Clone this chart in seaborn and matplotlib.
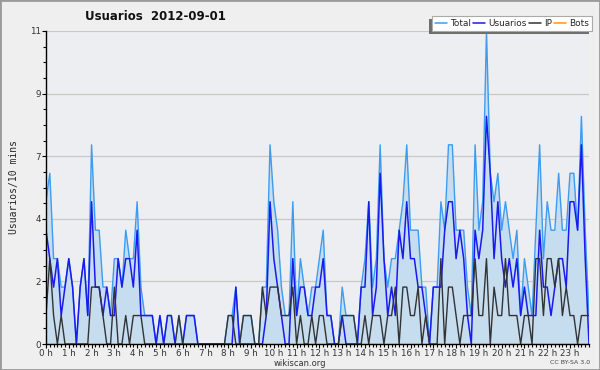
import numpy as np
import pandas as pd
import matplotlib
matplotlib.use("Agg")
import matplotlib.pyplot as plt
from matplotlib.lines import Line2D
from matplotlib.patches import Rectangle
import seaborn as sns

# ---- data (10-minute slots, 2012-09-01) ----
hour_labels = [f"{h} h" for h in range(24)]

total = [5, 6, 3, 3, 2, 2, 3, 2, 0, 2,
         3, 1, 7, 4, 4, 2, 2, 1, 3, 3,
         2, 4, 3, 3, 5, 2, 1, 1, 1, 0,
         1, 0, 1, 1, 0, 1, 0, 1, 1, 1,
         0, 0, 0, 0, 0, 0, 0, 0, 1, 1,
         2, 0, 1, 1, 1, 0, 0, 2, 2, 7,
         5, 4, 2, 1, 1, 5, 1, 3, 2, 1,
         2, 2, 3, 4, 1, 1, 0, 0, 2, 1,
         1, 1, 0, 2, 3, 5, 2, 3, 7, 3,
         2, 3, 3, 4, 5, 7, 4, 4, 4, 2,
         2, 0, 2, 2, 5, 4, 7, 7, 4, 4,
         4, 2, 1, 7, 4, 5, 11, 6, 5, 6,
         4, 5, 4, 3, 4, 1, 3, 2, 1, 4,
         7, 3, 5, 4, 4, 6, 4, 4, 6, 6,
         4, 8, 4, 1]

usuarios = [4, 3, 2, 3, 1, 2, 3, 2, 0, 2,
            3, 1, 5, 2, 2, 1, 2, 1, 1, 3,
            2, 3, 3, 2, 4, 1, 1, 1, 1, 0,
            1, 0, 1, 1, 0, 0, 0, 1, 1, 1,
            0, 0, 0, 0, 0, 0, 0, 0, 0, 0,
            2, 0, 0, 0, 0, 0, 0, 0, 1, 5,
            3, 2, 1, 0, 0, 3, 1, 2, 2, 1,
            1, 2, 2, 3, 1, 1, 0, 0, 1, 0,
            0, 0, 0, 2, 2, 5, 1, 2, 6, 3,
            1, 2, 1, 4, 3, 5, 3, 3, 2, 2,
            1, 0, 2, 2, 2, 4, 5, 5, 3, 4,
            3, 1, 0, 4, 3, 4, 8, 6, 3, 5,
            3, 2, 3, 2, 3, 1, 2, 1, 1, 1,
            4, 2, 2, 1, 2, 3, 3, 2, 5, 5,
            4, 7, 3, 0]

ip = [1, 3, 1, 0, 1, 0, 0, 0, 0, 0,
      0, 0, 2, 2, 2, 1, 0, 0, 2, 0,
      0, 1, 0, 1, 1, 1, 0, 0, 0, 0,
      0, 0, 0, 0, 0, 1, 0, 0, 0, 0,
      0, 0, 0, 0, 0, 0, 0, 0, 1, 1,
      0, 0, 1, 1, 1, 0, 0, 2, 1, 2,
      2, 2, 1, 1, 1, 2, 0, 1, 0, 0,
      1, 0, 1, 1, 0, 0, 0, 0, 1, 1,
      1, 1, 0, 0, 1, 0, 1, 1, 1, 0,
      1, 1, 2, 0, 2, 2, 1, 1, 2, 0,
      1, 0, 0, 0, 3, 0, 2, 2, 1, 0,
      1, 1, 1, 3, 1, 1, 3, 0, 2, 1,
      1, 3, 1, 1, 1, 0, 1, 1, 0, 3,
      3, 1, 3, 3, 2, 3, 1, 2, 1, 1,
      0, 1, 1, 1]

bots = [0] * 144

series_names = ["Total", "Usuarios", "IP", "Bots"]
series_colors = ["#3d9cf0", "#1a1aee", "#333333", "#ff9900"]

y_tick_pos = [0, 2.2, 4.4, 6.6, 8.8, 11]
y_tick_labels = ["0", "2", "4", "7", "9", "11"]

# ---- build long table ----
slots = np.arange(len(total))
df = pd.DataFrame({"slot": slots, "Total": total, "Usuarios": usuarios,
                   "IP": ip, "Bots": bots})
long_df = df.melt(id_vars="slot", var_name="serie", value_name="n")

sns.set_style("white")
plt.rcParams["font.family"] = ["DejaVu Sans"]

W, H = 600, 370
fig = plt.figure(figsize=(W / 100, H / 100), dpi=100, facecolor="#efefef")
ax = fig.add_axes([46 / W, 26 / H, 543 / W, 313 / H])
ax.set_facecolor("#eceef1")

# fill under Total
ax.fill_between(df["slot"], df["Total"], 0, color="#c6dcef", lw=0, zorder=1)

palette = dict(zip(series_names, series_colors))
widths = {"Total": 1.0, "Usuarios": 1.1, "IP": 1.0, "Bots": 1.0}
for name in ["Bots", "Total", "Usuarios", "IP"]:
    sub = long_df[long_df["serie"] == name]
    sns.lineplot(data=sub, x="slot", y="n", color=palette[name],
                 linewidth=widths[name], ax=ax, legend=False,
                 estimator=None, zorder=1.5 if name == "Bots" else 2)

ax.set_xlim(0, len(total) - 1)
ax.set_ylim(0, 11)

# grid / ticks
ax.set_yticks(y_tick_pos)
ax.set_yticklabels(y_tick_labels)
ax.set_yticks(np.arange(0, 11.01, 0.55), minor=True)
ax.yaxis.grid(True, which="major", color="#c8c8c8", lw=0.9)
ax.xaxis.grid(False)
ax.set_axisbelow(True)

ax.set_xticks(np.arange(0, 144, 6))
ax.set_xticklabels(hour_labels)
ax.set_xticks(np.arange(0, 144, 1), minor=True)

for s in ["top", "right"]:
    ax.spines[s].set_visible(False)
for s in ["left", "bottom"]:
    ax.spines[s].set_color("black")
    ax.spines[s].set_linewidth(1.0)
    ax.spines[s].set_zorder(3)

ax.tick_params(axis="both", which="major", length=3, width=0.8,
               color="black", labelsize=6.3, labelcolor="#333333", pad=0.5)
ax.tick_params(axis="both", which="minor", length=2.2, width=0.8, color="black")
ax.tick_params(axis="x", which="both", bottom=True)
ax.tick_params(axis="y", which="both", left=True)

ax.set_xlabel("")
ax.set_ylabel("Usuarios/10 mins", fontsize=7, family="DejaVu Sans Mono",
              labelpad=8)

# title
fig.text(85 / W, 1 - 17 / H, "Usuarios  2012-09-01", fontsize=8.5,
         fontweight="bold", ha="left", va="center", color="#111111")

# legend
handles = [Line2D([0], [0], color=c, lw=1.1) for c in series_colors]
leg = fig.legend(handles, series_names, loc="upper right",
                 bbox_to_anchor=(592 / W, 1 - 16 / H), ncol=4,
                 fontsize=6.4, frameon=True, fancybox=False, shadow=False,
                 framealpha=1.0,
                 handlelength=1.3, handletextpad=0.35, columnspacing=0.3,
                 borderpad=0.35, borderaxespad=0)
leg.get_frame().set_edgecolor("#aaaaaa")
leg.get_frame().set_linewidth(0.8)
leg.get_frame().set_facecolor("white")
leg.set_zorder(10)

# legend shadow (offset left/down)
fig.canvas.draw()
bb = leg.get_window_extent()
shadow = Rectangle(((bb.x0 - 3) / W, (bb.y0 - 3) / H), bb.width / W,
                   bb.height / H, transform=fig.transFigure,
                   facecolor="#6e6e6e", edgecolor="none", zorder=9)
fig.patches.append(shadow)

# footer
fig.text(300 / W, 1 - 363 / H, "wikiscan.org", fontsize=6, ha="center",
         va="center", color="#333333")
fig.text(590 / W, 1 - 363 / H, "CC BY-SA 3.0", fontsize=4.5, ha="right",
         va="center", color="#444444")

# outer border
fig.patches.append(Rectangle((0, 0), 1, 1, transform=fig.transFigure,
                             fill=False, edgecolor="#9a9a9a", lw=2))

fig.savefig("out.png", dpi=100, facecolor=fig.get_facecolor())
